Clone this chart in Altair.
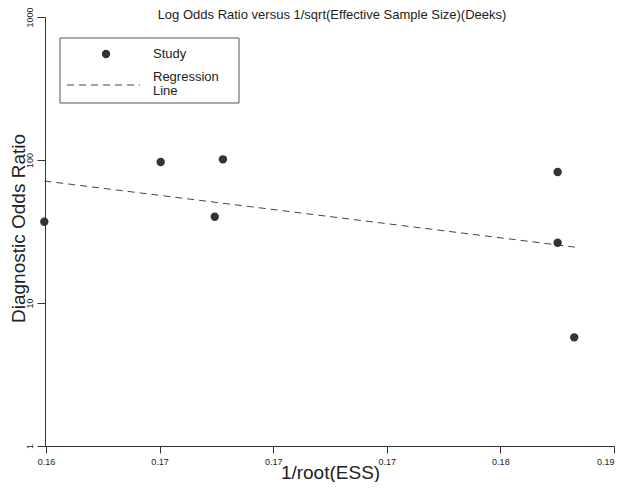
import altair as alt
import pandas as pd

# ---- data ----
study_x = [0.15993, 0.16505, 0.16743, 0.16779, 0.18252, 0.18252, 0.18325]
study_dor = [37.0, 96.8, 40.1, 101.1, 82.4, 26.4, 5.75]
reg_x = [0.15993, 0.18328]
reg_dor = [71.3, 24.6]
x_tick_values = [0.16, 0.165, 0.17, 0.175, 0.18, 0.185]
x_tick_labels = ["0.16", "0.17", "0.17", "0.17", "0.18", "0.19"]
y_tick_values = [1, 10, 100, 1000]
title_text = "Log Odds Ratio versus 1/sqrt(Effective Sample Size)(Deeks)"
legend_labels = ["Study", "Regression\nLine"]

FONT = "Liberation Sans"
INK = "#333333"
TXT = "#222222"

studies = pd.DataFrame({"x": study_x, "dor": study_dor})
reg = pd.DataFrame({"x": reg_x, "dor": reg_dor})
one = pd.DataFrame({"k": [0]})

x_scale = alt.Scale(domain=[0.15996, 0.185], nice=False, zero=False)
y_scale = alt.Scale(type="log", domain=[1, 1000], nice=False)

label_expr = "[" + ",".join(f"'{l}'" for l in x_tick_labels) + "][round((datum.value - 0.16) / 0.005)]"

x_axis = alt.Axis(
    values=x_tick_values, labelExpr=label_expr, title="1/root(ESS)", grid=False,
    tickSize=7, labelPadding=4, labelFontSize=9, labelFont=FONT, labelColor=TXT,
    labelFlush=False, labelOverlap=False,
    labelAlign={"condition": {"test": "datum.value > 0.184", "value": "right"}, "value": "center"},
    domainColor=INK, tickColor=INK, domainWidth=1, tickWidth=1,
    titleFontSize=19, titleFont=FONT, titleFontWeight="normal", titleColor=TXT,
    titleX=285, titleY=32, titleBaseline="alphabetic", titleAlign="center",
)
y_axis = alt.Axis(
    values=y_tick_values, format="d", title="Diagnostic Odds Ratio", grid=False,
    tickSize=8, labelAngle=270, labelAlign="center", labelBaseline="bottom",
    labelPadding=3, labelFontSize=9, labelFont=FONT, labelColor=TXT,
    domainColor=INK, tickColor=INK, domainWidth=1, tickWidth=1,
    titleFontSize=19, titleFont=FONT, titleFontWeight="normal", titleColor=TXT,
    titleX=-27, titleY=211, titleBaseline="middle", titleAlign="center", titleAngle=270,
)

points = alt.Chart(studies).mark_circle(size=70, color=INK, opacity=1).encode(
    x=alt.X("x:Q", scale=x_scale, axis=x_axis),
    y=alt.Y("dor:Q", scale=y_scale, axis=y_axis),
)
line = alt.Chart(reg).mark_line(strokeDash=[7, 5], strokeWidth=1, color="#444444").encode(
    x=alt.X("x:Q", scale=x_scale),
    y=alt.Y("dor:Q", scale=y_scale),
)

# ---- chart title as text above the plot ----
title_mark = alt.Chart(one).mark_text(align="center", baseline="alphabetic", fontSize=13, font=FONT,
                                      color=TXT).encode(
    x=alt.value(287), y=alt.value(1.5), text=alt.value(title_text)
)

# ---- legend box (decoration) ----
leg_box = alt.Chart(one).mark_rect(fill="white", stroke="#555555", strokeWidth=1).encode(
    x=alt.value(15), x2=alt.value(194), y=alt.value(21), y2=alt.value(86)
)
leg_pt = alt.Chart(one).mark_circle(size=70, color=INK, opacity=1).encode(
    x=alt.value(61), y=alt.value(37)
)
leg_dash = alt.Chart(one).mark_rule(strokeDash=[7, 5], strokeWidth=1, color="#444444").encode(
    x=alt.value(22), x2=alt.value(95), y=alt.value(68)
)
leg_t1 = alt.Chart(one).mark_text(align="left", baseline="middle", fontSize=13, font=FONT, color=TXT).encode(
    x=alt.value(108), y=alt.value(37), text=alt.value(legend_labels[0])
)
leg_t2 = alt.Chart(one).mark_text(align="left", baseline="middle", fontSize=13, font=FONT, color=TXT,
                                  lineBreak="\n", lineHeight=14).encode(
    x=alt.value(108), y=alt.value(59.5), text=alt.value(legend_labels[1])
)

chart = alt.layer(title_mark, leg_box, leg_pt, leg_dash, leg_t1, leg_t2, line, points).properties(
    width=569, height=429,
    autosize=alt.AutoSizeParams(type="none"),
    padding={"left": 37, "top": 9, "right": 1, "bottom": 36},
    background="white",
).configure_view(stroke="transparent")

chart.save("out.html", embed_options={"renderer": "svg", "actions": False})
